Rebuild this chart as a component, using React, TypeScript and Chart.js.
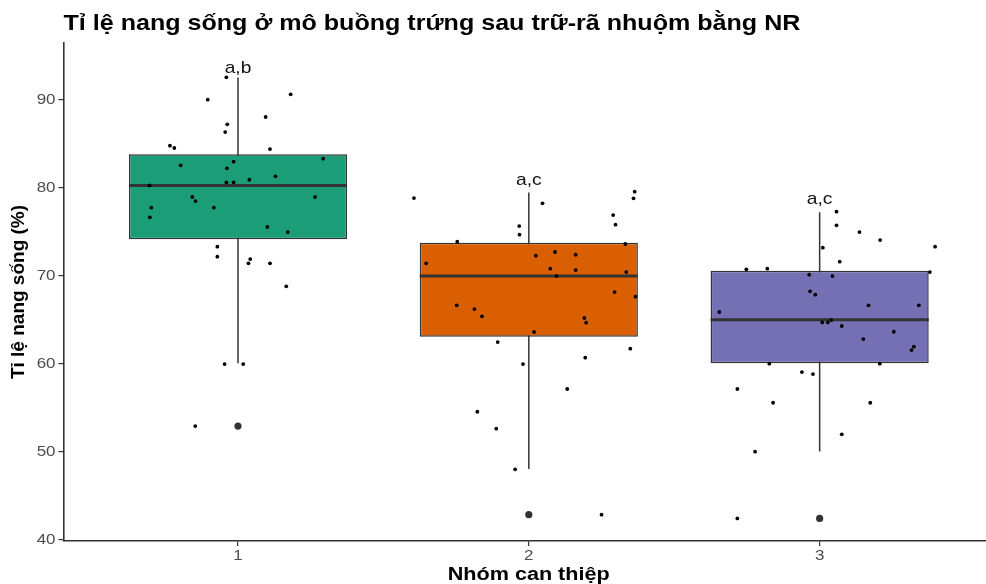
import React, { useEffect, useRef } from "react";
import { Chart, registerables } from "chart.js";

Chart.register(...registerables);

const TITLE = "Tỉ lệ nang sống ở mô buồng trứng sau trữ-rã nhuộm bằng NR";
const X_TITLE = "Nhóm can thiệp";
const Y_TITLE = "Tỉ lệ nang sống (%)";

const CATEGORIES = [1, 2, 3];
const CAT_LABELS = ["1", "2", "3"];
const Y_TICKS = [40, 50, 60, 70, 80, 90];

const BOX_Q1 = [74.17, 63.1, 60.08];
const BOX_MEDIAN = [80.3, 70.0, 65.04];
const BOX_Q3 = [83.83, 73.79, 70.6];
const WHISKER_LOW = [60.08, 48.07, 50.07];
const WHISKER_HIGH = [92.55, 79.5, 77.24];
const OUTLIERS = [52.95, 42.88, 42.46];
const SIG_LABELS = ["a,b", "a,c", "a,c"];
const SIG_Y = [93.1, 80.3, 78.2];
const FILLS = ["#1B9E77", "#D95F02", "#7570B3"];

const G1_VALUES = [92.58, 90.04, 90.65, 88.07, 87.24, 86.36, 84.81, 84.55, 84.43, 83.33, 82.99, 82.58, 82.24, 80.94, 81.33, 80.64, 80.64, 80.3, 78.98, 78.52, 78.98, 77.77, 77.77, 76.67, 75.57, 75.0, 73.33, 72.2, 71.93, 71.44, 71.44, 68.83, 60.0, 60.0, 52.95];
const G1_JITTER = [-0.04, -0.104, 0.181, 0.095, -0.037, -0.044, -0.234, -0.219, 0.11, 0.293, -0.015, -0.197, -0.038, 0.039, 0.129, -0.04, -0.015, -0.304, -0.157, -0.146, 0.265, -0.298, -0.083, -0.303, 0.101, 0.171, -0.071, -0.071, 0.042, 0.036, 0.11, 0.166, -0.046, 0.018, -0.147];

const G2_VALUES = [78.86, 78.26, 79.58, 78.83, 76.93, 75.83, 75.68, 74.7, 73.9, 73.64, 72.73, 72.31, 72.42, 71.44, 70.83, 70.68, 70.45, 70.0, 68.18, 67.65, 66.67, 66.25, 65.42, 65.23, 64.7, 63.64, 62.5, 61.74, 60.72, 60.0, 57.16, 54.58, 52.65, 48.03, 42.88];
const G2_JITTER = [-0.395, 0.047, 0.364, 0.36, 0.29, 0.298, -0.033, -0.032, -0.246, 0.332, 0.09, 0.024, 0.161, -0.353, 0.074, 0.161, 0.335, 0.095, 0.295, 0.367, -0.248, -0.187, -0.161, 0.191, 0.197, 0.018, -0.107, 0.349, 0.194, -0.02, 0.132, -0.177, -0.112, -0.047, 0.25];

const G3_VALUES = [77.31, 75.76, 75.0, 74.09, 73.33, 73.22, 71.63, 70.76, 70.83, 70.45, 70.15, 70.0, 68.26, 67.88, 65.91, 66.67, 66.67, 64.73, 64.73, 65.0, 64.32, 62.84, 63.67, 61.97, 61.59, 60.04, 60.04, 59.09, 58.86, 57.16, 55.6, 55.6, 52.01, 50.04, 42.46];
const G3_JITTER = [0.058, 0.058, 0.137, 0.208, 0.397, 0.011, 0.069, -0.252, -0.18, 0.379, -0.036, 0.044, -0.033, -0.015, -0.345, 0.168, 0.341, 0.009, 0.028, 0.04, 0.076, 0.15, 0.255, 0.324, 0.316, -0.173, 0.207, -0.061, -0.023, -0.283, -0.16, 0.174, 0.076, -0.222, -0.283];

const GROUP_VALUES = [G1_VALUES, G2_VALUES, G3_VALUES];
const GROUP_JITTER = [G1_JITTER, G2_JITTER, G3_JITTER];

const BOX_WIDTH = 0.75;
const FONT = "'Liberation Sans', Arial, Helvetica, sans-serif";
const SX = 1.13;

function stretchedText(
  ctx: CanvasRenderingContext2D,
  text: string,
  x: number,
  y: number,
  font: string,
  color: string,
  align: CanvasTextAlign,
  baseline: CanvasTextBaseline,
  sx: number
) {
  ctx.save();
  ctx.translate(x, y);
  ctx.scale(sx, 1);
  ctx.font = font;
  ctx.fillStyle = color;
  ctx.textAlign = align;
  ctx.textBaseline = baseline;
  ctx.fillText(text, 0, 0);
  ctx.restore();
}

const textPlugin = {
  id: "textPlugin",
  afterDraw(chart: any) {
    const ctx: CanvasRenderingContext2D = chart.ctx;
    const xs = chart.scales.x;
    const ys = chart.scales.y;
    const area = chart.chartArea;
    // title
    stretchedText(ctx, TITLE, area.left, 30, `bold 22px ${FONT}`, "#000", "left", "alphabetic", 1.14);
    // y tick labels
    Y_TICKS.forEach((v) => {
      stretchedText(ctx, String(v), 55.5, ys.getPixelForValue(v), `15px ${FONT}`, "#4D4D4D", "right", "middle", SX);
    });
    // x tick labels
    CATEGORIES.forEach((c, i) => {
      stretchedText(ctx, CAT_LABELS[i], xs.getPixelForValue(c), 559.5, `15px ${FONT}`, "#4D4D4D", "center", "alphabetic", SX);
    });
    // x title
    stretchedText(ctx, X_TITLE, 528.7, 580, `bold 18px ${FONT}`, "#000", "center", "alphabetic", 1.2);
    // y title
    ctx.save();
    ctx.translate(19, (area.top + area.bottom) / 2);
    ctx.rotate(-Math.PI / 2);
    ctx.font = `bold 19px ${FONT}`;
    ctx.fillStyle = "#000";
    ctx.textAlign = "center";
    ctx.textBaseline = "middle";
    ctx.fillText(Y_TITLE, 0, 0);
    ctx.restore();
    // significance labels
    CATEGORIES.forEach((c, i) => {
      stretchedText(ctx, SIG_LABELS[i], xs.getPixelForValue(c), ys.getPixelForValue(SIG_Y[i]), `17px ${FONT}`, "#111", "center", "alphabetic", SX);
    });
  },
};

export default function App() {
  const ref = useRef<HTMLCanvasElement | null>(null);

  useEffect(() => {
    if (!ref.current) return;

    const jitterPoints: { x: number; y: number }[] = [];
    GROUP_VALUES.forEach((vals, g) => {
      vals.forEach((v, k) => jitterPoints.push({ x: CATEGORIES[g] + GROUP_JITTER[g][k], y: v }));
    });

    const whiskerData: any[] = [];
    const medianData: any[] = [];
    CATEGORIES.forEach((c, i) => {
      whiskerData.push({ x: c, y: WHISKER_LOW[i] }, { x: c, y: WHISKER_HIGH[i] }, { x: c, y: null });
      medianData.push(
        { x: c - BOX_WIDTH / 2, y: BOX_MEDIAN[i] },
        { x: c + BOX_WIDTH / 2, y: BOX_MEDIAN[i] },
        { x: c, y: null }
      );
    });

    const chart = new Chart(ref.current, {
      type: "scatter",
      data: {
        datasets: [
          {
            type: "scatter",
            label: "points",
            data: jitterPoints,
            backgroundColor: "#000",
            borderWidth: 0,
            pointRadius: 1.9,
            pointHoverRadius: 0,
            order: 0,
          } as any,
          {
            type: "scatter",
            label: "outliers",
            data: CATEGORIES.map((c, i) => ({ x: c, y: OUTLIERS[i] })),
            backgroundColor: "#333333",
            borderWidth: 0,
            pointRadius: 3.6,
            pointHoverRadius: 0,
            order: 1,
          } as any,
          {
            type: "line",
            label: "median",
            data: medianData,
            borderColor: "#333333",
            borderWidth: 3,
            pointRadius: 0,
            spanGaps: false,
            fill: false,
            order: 2,
          } as any,
          {
            type: "bar",
            label: "box",
            data: CATEGORIES.map((c, i) => ({ x: c, y: [BOX_Q1[i], BOX_Q3[i]] })),
            backgroundColor: FILLS,
            borderColor: "#333333",
            borderWidth: 1.5,
            borderSkipped: false,
            categoryPercentage: 1,
            barPercentage: BOX_WIDTH,
            order: 3,
          } as any,
          {
            type: "line",
            label: "whisker",
            data: whiskerData,
            borderColor: "#333333",
            borderWidth: 1.5,
            pointRadius: 0,
            spanGaps: false,
            fill: false,
            order: 4,
          } as any,
        ],
      },
      options: {
        animation: false,
        responsive: false,
        devicePixelRatio: 1,
        events: [],
        layout: { autoPadding: false, padding: { top: 43, left: 0, right: 0, bottom: 0 } },
        plugins: {
          legend: { display: false },
          tooltip: { enabled: false },
          title: { display: false },
        },
        scales: {
          x: {
            type: "linear",
            min: 0.4,
            max: 3.572,
            offset: false,
            afterBuildTicks: (scale: any) => {
              scale.ticks = CATEGORIES.map((v) => ({ value: v }));
            },
            afterFit: (scale: any) => {
              scale.height = 43;
              scale.paddingLeft = 0;
              scale.paddingRight = 0;
            },
            grid: {
              offset: false,
              drawOnChartArea: false,
              drawTicks: true,
              tickLength: 5,
              color: "#333333",
              lineWidth: 1.2,
            },
            border: { display: true, color: "#333333", width: 1.6 },
            ticks: { display: false },
          },
          y: {
            type: "linear",
            min: 39.89,
            max: 96.48,
            afterBuildTicks: (scale: any) => {
              scale.ticks = Y_TICKS.map((v) => ({ value: v }));
            },
            afterFit: (scale: any) => {
              scale.width = 63.5;
              scale.paddingTop = 0;
              scale.paddingBottom = 0;
            },
            grid: {
              drawOnChartArea: false,
              drawTicks: true,
              tickLength: 5,
              color: "#333333",
              lineWidth: 1.2,
            },
            border: { display: true, color: "#333333", width: 1.6 },
            ticks: { display: false },
          },
        },
      } as any,
      plugins: [textPlugin],
    });

    return () => chart.destroy();
  }, []);

  return (
    <div style={{ position: "fixed", left: 0, top: 0, width: 986, height: 584, background: "#fff" }}>
      <canvas ref={ref} width={986} height={584} style={{ display: "block", width: 986, height: 584 }} />
    </div>
  );
}
